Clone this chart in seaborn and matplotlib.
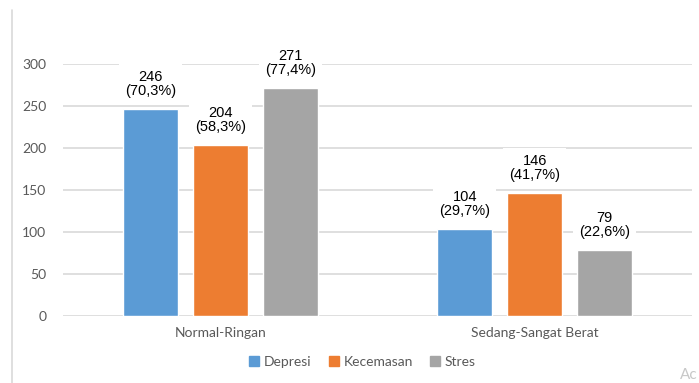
import pandas as pd
import seaborn as sns
import matplotlib.pyplot as plt
from matplotlib.lines import Line2D

# data
categories = ['Normal-Ringan', 'Sedang-Sangat Berat']
series = ['Depresi', 'Kecemasan', 'Stres']
depresi = [246, 104]
kecemasan = [204, 146]
stres = [271, 79]
depresi_pct = ['70,3%', '29,7%']
kecemasan_pct = ['58,3%', '41,7%']
stres_pct = ['77,4%', '22,6%']
y_ticks = [0, 50, 100, 150, 200, 250, 300]

colors = ['#5B9BD5', '#ED7D31', '#A5A5A5']
text_gray = '#595959'

rows = []
for name, vals, pcts in zip(series, [depresi, kecemasan, stres],
                            [depresi_pct, kecemasan_pct, stres_pct]):
    for cat, v, p in zip(categories, vals, pcts):
        rows.append({'kategori': cat, 'kelompok': name, 'n': v, 'pct': p})
df = pd.DataFrame(rows)

sns.set_style('white')
plt.rcParams['font.family'] = ['Lato', 'DejaVu Sans']

fig = plt.figure(figsize=(6.99, 3.83), dpi=100)
ax = fig.add_axes([63 / 699, 67 / 383, 629 / 699, 252 / 383])

sns.barplot(data=df, x='kategori', y='n', hue='kelompok', order=categories,
            hue_order=series, palette=colors, width=0.667, gap=0.21,
            saturation=1, ax=ax, legend=False, zorder=2)

ax.set_ylim(0, 300)
ax.set_xlim(-0.5, 1.5)
ax.set_yticks(y_ticks)
ax.yaxis.grid(True, color='#D9D9D9', linewidth=1.2, zorder=0)
ax.set_axisbelow(True)
for s in ax.spines.values():
    s.set_visible(False)
ax.tick_params(axis='both', length=0, labelsize=10, labelcolor=text_gray)
ax.tick_params(axis='y', pad=12)
ax.tick_params(axis='x', pad=8)
ax.set_xlabel('')
ax.set_ylabel('')

# value labels with white boxes (they cut the gridlines like in the original)
for name, cont in zip(series, ax.containers):
    sub = df[df['kelompok'] == name]
    for bar, (_, r) in zip(cont, sub.iterrows()):
        x = bar.get_x() + bar.get_width() / 2
        ax.annotate(f"{r['n']}\n({r['pct']})", (x, bar.get_height()),
                    xytext=(0, 8), textcoords='offset points',
                    ha='center', va='bottom', fontsize=10.5,
                    family='Liberation Sans', color='black',
                    linespacing=1.0, annotation_clip=False, zorder=3,
                    bbox=dict(boxstyle='square,pad=0.4', fc='white', ec='none'))

handles = [Line2D([], [], marker='s', linestyle='none', markersize=7,
                  markerfacecolor=c, markeredgecolor=c) for c in colors]
fig.legend(handles, series, loc='center', bbox_to_anchor=(362 / 699, 1 - 362 / 383),
           ncol=3, frameon=False, fontsize=10, labelcolor=text_gray,
           handlelength=0.8, handletextpad=0.3, columnspacing=1.2)

# screenshot edge and watermark remnant
fig.add_artist(Line2D([12 / 699, 12 / 699], [0, 1 - 10 / 383],
                      color='#D9D9D9', linewidth=1.2))
fig.text(680 / 699, 1 - 375 / 383, 'Ac', fontsize=11, color='#C8C8C8',
         ha='left', va='center')

fig.savefig('out.png', dpi=100)
